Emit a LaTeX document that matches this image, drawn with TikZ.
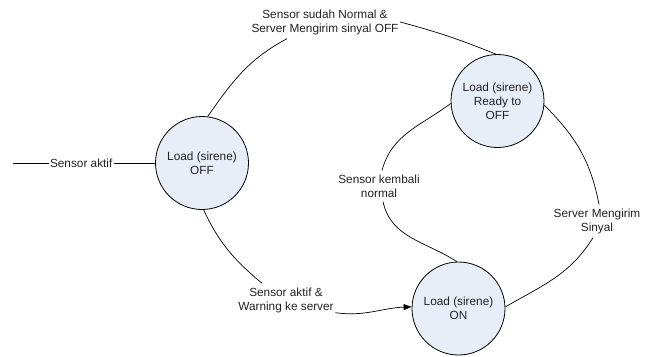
\documentclass[tikz,border=0pt]{standalone}
\usepackage{fontspec}
\setmainfont{Liberation Sans}
\usetikzlibrary{arrows.meta}
\definecolor{nodefill}{RGB}{232,238,248}
\definecolor{txt}{RGB}{34,34,34}
\begin{document}
\begin{tikzpicture}[x=1pt,y=-1pt,
  every node/.style={font=\fontsize{11.8}{14}\selectfont, text=txt},
  state/.style={circle, draw, line width=0.8pt, fill=nodefill, minimum size=93pt, inner sep=0pt, align=center},
  lbl/.style={fill=white, inner xsep=1.5pt, inner ysep=4pt, align=center},
  conn/.style={line width=0.7pt},
  tip/.style={-{Triangle[length=8pt,width=6pt]}}]
\useasboundingbox (0,0) rectangle (652,356);

\node[state] (off) at (202,163) {Load (sirene)\\OFF};
\node[state] (rdy) at (497.5,101) {Load (sirene)\\Ready to\\OFF};
\node[state] (on)  at (458.5,308.5) {Load (sirene)\\ON};

\coordinate (start) at (13,163);

\node[lbl] (l1) at (325,22) {Sensor sudah Normal \&\\Server Mengirim sinyal OFF};
\node[lbl] (l2) at (379,186) {Sensor kembali\\normal};
\node[lbl] (l3) at (597,221) {Server Mengirim\\Sinyal};
\node[lbl] (l4) at (286,300) {Sensor aktif \&\\Warning ke server};

% input
\draw[conn] (start) -- node[lbl, inner ysep=1pt, pos=0.48] (l0) {Sensor aktif} (off.west);

% OFF -> Ready to OFF
\draw[conn] (off.83) to[out=55, in=208] ([xshift=-38pt]l1.south);
\draw[conn] (l1.east) to[out=-15, in=158] (rdy.92);

% Ready to OFF -> ON (left)
\draw[conn] (rdy.183) to[out=217, in=75] ([xshift=3pt]l2.north);
\draw[conn] ([xshift=4pt]l2.south) to[out=-78, in=147] (on.92);

% Ready to OFF -> ON (right)
\draw[conn] (rdy.-5) to[out=-45, in=101] ([xshift=2pt]l3.north);
\draw[conn] ([xshift=-4pt]l3.south) to[out=238, in=30] (on.2);

% OFF -> ON
\draw[conn] (off.-88) to[out=-65, in=140] ([xshift=-24pt]l4.north);
\draw[conn, tip] ([yshift=4pt]l4.south east) to[out=-8, in=182] (on.178);
\end{tikzpicture}
\end{document}
